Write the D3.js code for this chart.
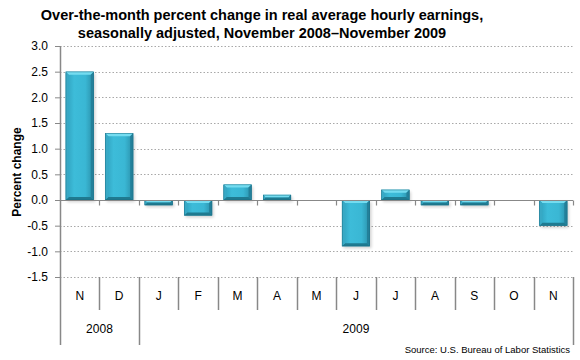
<!DOCTYPE html>
<html><head><meta charset="utf-8">
<script src="https://cdn.jsdelivr.net/npm/d3@7"></script>
<style>body{margin:0;background:#fff}svg{display:block;font-family:"Liberation Sans",Arial,sans-serif}</style>
</head><body>
<svg id="c" width="580" height="360"></svg>
<script>
const months = ["N","D","J","F","M","A","M","J","J","A","S","O","N"];
const values = [2.5,1.3,-0.1,-0.3,0.3,0.1,0.0,-0.9,0.2,-0.1,-0.1,0.0,-0.5];
const yTicks = [3.0,2.5,2.0,1.5,1.0,0.5,0.0,-0.5,-1.0,-1.5];
const years = [{label:"2008",start:0,end:2},{label:"2009",start:2,end:13}];
const titleLines = ["Over-the-month percent change in real average hourly earnings,","seasonally adjusted, November 2008\u2013November 2009"];

const svg = d3.select("#c");
const L=60,R=573,T=46,B=277;
const x = d3.scaleBand().domain(d3.range(months.length)).range([L,R]).paddingInner(0.29).paddingOuter(0.145);
const y = d3.scaleLinear().domain([-1.5,3.0]).range([B,T]);
const step = x.step();
const edge = i => L + i*step;

const defs = svg.append("defs");
const g1 = defs.append("linearGradient").attr("id","bg").attr("x1","0").attr("x2","1").attr("y1","0").attr("y2","0");
g1.append("stop").attr("offset","0").attr("stop-color","#2f9fbc");
g1.append("stop").attr("offset","0.3").attr("stop-color","#3dbcd9");
g1.append("stop").attr("offset","0.7").attr("stop-color","#3ab7d4");
g1.append("stop").attr("offset","1").attr("stop-color","#2a8fa9");
const f = defs.append("filter").attr("id","sh").attr("x","-20%").attr("y","-20%").attr("width","140%").attr("height","140%");
f.append("feGaussianBlur").attr("stdDeviation","1.5");

// title
svg.append("g").selectAll("text").data(titleLines).join("text")
  .attr("x",262).attr("y",(d,i)=>20+i*18).attr("text-anchor","middle")
  .attr("font-weight","bold").attr("font-size","14.5px").attr("fill","#000").text(d=>d);

// gridlines
svg.append("g").selectAll("line").data(yTicks.filter(v=>v!==0)).join("line")
  .attr("x1",L).attr("x2",R).attr("y1",d=>Math.round(y(d))+0.5).attr("y2",d=>Math.round(y(d))+0.5)
  .attr("stroke","#a8a8a8").attr("stroke-dasharray","1.5,2").attr("stroke-width",1);

// y axis
const ya = svg.append("g").attr("transform",`translate(${L},0)`)
  .call(d3.axisLeft(y).tickValues(yTicks).tickFormat(d3.format(".1f")).tickSize(5).tickPadding(7));
ya.select(".domain").remove();
ya.selectAll(".tick line").attr("stroke","#888");
ya.selectAll(".tick text").attr("font-size","12px").attr("fill","#000").attr("font-family","Liberation Sans, Arial, sans-serif");
ya.selectAll(".tick text").text(d=>d<0? "-"+Math.abs(d).toFixed(1): d.toFixed(1));

// shadows
svg.append("g").selectAll("rect").data(values).join("rect")
  .attr("x",(d,i)=>x(i)+1.5).attr("width",x.bandwidth())
  .attr("y",d=>Math.min(y(d),y(0))+2).attr("height",d=>Math.abs(y(d)-y(0)))
  .attr("fill","#000").attr("opacity",d=>d===0?0:0.18).attr("filter","url(#sh)");

// bars
const bars = svg.append("g").selectAll("g").data(values.map((v,i)=>({v,i}))).join("g").filter(d=>d.v!==0);
bars.each(function(d){
  const g=d3.select(this);
  const x0=x(d.i), w=x.bandwidth(), x1=x0+w;
  const y0=Math.min(y(d.v),y(0)), y1=Math.max(y(d.v),y(0)), h=y1-y0;
  const b=Math.min(3, h/2);
  g.append("rect").attr("x",x0).attr("y",y0).attr("width",w).attr("height",h).attr("fill","url(#bg)");
  // top bevel
  g.append("polygon").attr("points",[[x0,y0],[x1,y0],[x1-b,y0+b],[x0+b,y0+b]].join(" ")).attr("fill","#74dcf0");
  // bottom bevel
  g.append("polygon").attr("points",[[x0,y1],[x1,y1],[x1-b,y1-b],[x0+b,y1-b]].join(" ")).attr("fill","#1f7a90");
  // left
  g.append("polygon").attr("points",[[x0,y0],[x0+b,y0+b],[x0+b,y1-b],[x0,y1]].join(" ")).attr("fill","#38a9c5");
  // right
  g.append("polygon").attr("points",[[x1,y0],[x1-b,y0+b],[x1-b,y1-b],[x1,y1]].join(" ")).attr("fill","#23809a");
  g.append("rect").attr("x",x0+0.25).attr("y",y0+0.25).attr("width",w-0.5).attr("height",h-0.5).attr("fill","none").attr("stroke","#1b6f85").attr("stroke-width",0.5);
});

// zero line & ticks
const zy=Math.round(y(0))+0.5;
svg.append("line").attr("x1",L).attr("x2",R).attr("y1",zy).attr("y2",zy).attr("stroke","#888").attr("stroke-width",1.2);
svg.append("g").selectAll("line").data(d3.range(1,months.length+1)).join("line")
  .attr("x1",i=>Math.round(edge(i))+0.5).attr("x2",i=>Math.round(edge(i))+0.5).attr("y1",zy).attr("y2",zy+5)
  .attr("stroke","#888").attr("stroke-width",1.2);

// left axis line
svg.append("line").attr("x1",L+0.5).attr("x2",L+0.5).attr("y1",T).attr("y2",345).attr("stroke","#888").attr("stroke-width",1.5);

// category separators
const yearEdges = new Set(years.map(d=>d.start).concat([months.length]));
svg.append("g").selectAll("line").data(d3.range(1,months.length+1)).join("line")
  .attr("x1",i=>Math.round(edge(i))+0.5).attr("x2",i=>Math.round(edge(i))+0.5)
  .attr("y1",B).attr("y2",i=>yearEdges.has(i)?345:310)
  .attr("stroke","#888").attr("stroke-width",1.5);

// month labels
svg.append("g").selectAll("text").data(months).join("text")
  .attr("x",(d,i)=>x(i)+x.bandwidth()/2).attr("y",300).attr("text-anchor","middle")
  .attr("font-size","12px").attr("fill","#000").text(d=>d);

// year labels
svg.append("g").selectAll("text").data(years).join("text")
  .attr("x",d=>(edge(d.start)+edge(d.end))/2).attr("y",333).attr("text-anchor","middle")
  .attr("font-size","12px").attr("fill","#000").text(d=>d.label);

// y label
svg.append("text").attr("transform","translate(21,172) rotate(-90)").attr("text-anchor","middle")
  .attr("font-weight","bold").attr("font-size","12px").attr("fill","#000").text("Percent change");

// source
svg.append("text").attr("x",570).attr("y",353).attr("text-anchor","end").attr("font-size","9.5px").attr("fill","#000")
  .text("Source: U.S. Bureau of Labor Statistics");
</script>
</body></html>
